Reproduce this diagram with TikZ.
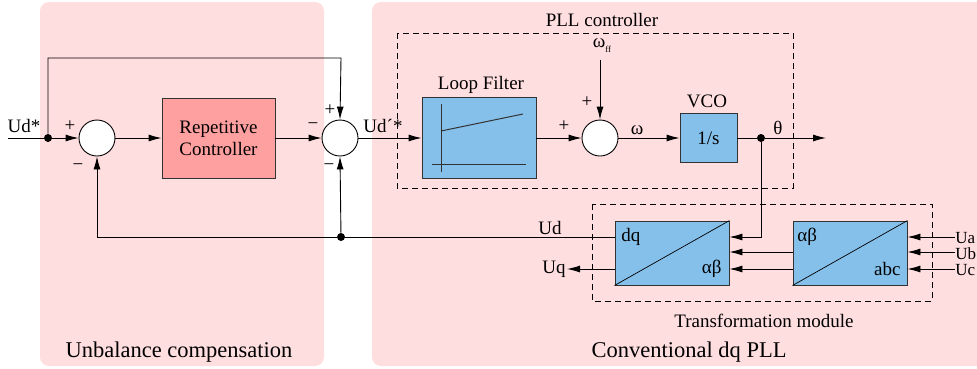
\documentclass[tikz,border=0pt]{standalone}
\usepackage{fontspec}
\setmainfont{Liberation Serif}
\usetikzlibrary{arrows.meta,calc}
\definecolor{panelpink}{RGB}{255,222,224}
\definecolor{reppink}{RGB}{255,160,160}
\definecolor{bluebox}{RGB}{133,192,234}
\definecolor{edge}{RGB}{50,50,50}
\begin{document}
\begin{tikzpicture}[x=1pt,y=-1pt,
  font=\fontsize{19}{22}\selectfont,
  line width=0.9pt,
  arr/.style={-{Latex[length=13pt,width=7pt]}},
  sumc/.style={circle,draw,fill=white,minimum size=36pt,inner sep=0pt},
  blk/.style={draw=edge,inner sep=0pt,align=center},
  dotn/.style={circle,fill=black,minimum size=8pt,inner sep=0pt},
  dashbox/.style={dash pattern=on 6pt off 4pt,line width=0.8pt},
  lbl/.style={inner sep=0pt},
  ulbl/.style={inner sep=0pt,anchor=west,font=\fontsize{17}{17}\selectfont}
]
\useasboundingbox (0,0) rectangle (977,368);
\fill[white] (0,0) rectangle (977,368);
% panels
\fill[panelpink,rounded corners=9pt] (40,2) rectangle (324,366);
\begin{scope}
\clip (0,0) rectangle (977,368);
\fill[panelpink,rounded corners=9pt] (372,2) rectangle (995,366);
\end{scope}
% dashed boxes
\draw[dashbox] (397,33) rectangle (793,188);
\draw[dashbox] (592,204) rectangle (932,301);
% blocks
\node[blk,fill=reppink,minimum width=113pt,minimum height=80pt] (rep) at (218.5,138) {Repetitive\\Controller};
\node[sumc] (s1) at (97,138) {};
\node[sumc] (s2) at (340,138) {};
\node[blk,fill=bluebox,minimum width=114pt,minimum height=81pt] (lf) at (479,138) {};
\node[sumc] (s3) at (600,138) {};
\node[blk,fill=bluebox,minimum width=57pt,minimum height=49pt] (vco) at (708.5,138) {1/s};
\node[blk,fill=bluebox,minimum width=114pt,minimum height=64pt] (dq) at (672,253) {};
\node[blk,fill=bluebox,minimum width=114pt,minimum height=64pt] (ab) at (850,253) {};
\draw[line width=0.7pt] (dq.south west) -- (dq.north east);
\draw[line width=0.7pt] (ab.south west) -- (ab.north east);
% loop filter graph
\draw[edge,line width=1pt] (441,104) -- (441,172);
\draw[edge,line width=1pt] (432,164) -- (526,164);
\draw[edge,line width=1pt] (441,131) -- (523,114);
% dots and coordinates
\coordinate (in) at (8,138);
\node[dotn] (d1) at (48,138) {};
\coordinate (top) at (341,58);
\node[dotn] (d2) at (341,237) {};
\node[dotn] (d3) at (761,138) {};
\coordinate (out) at (826,138);
\coordinate (wffc) at (600,60);
\coordinate (uq) at (567,269);
\coordinate (ua) at (955,237);
\coordinate (ub) at (955,252);
\coordinate (uc) at (955,269);
% connectors
\draw (in) -- (d1);
\draw[arr] (d1) -- (s1);
\draw[arr] (d1) |- (top) -- (s2.north);
\draw[arr] (s1) -- (rep);
\draw[arr] (rep) -- (s2);
\draw[arr] (d2) -- (s2.south);
\draw[arr] (d2) -| (s1.south);
\draw (d2) -- (dq.west |- d2);
\draw[arr] (s2) -- (lf);
\draw[arr] (lf) -- (s3);
\draw[arr] (wffc) -- (s3.north);
\draw[arr] (s3) -- (vco);
\draw (vco) -- (d3);
\draw[arr] (d3) -- (out);
\draw[arr] (d3) |- (dq.east |- d2);
\draw[arr] (ab.west |- ub) -- (dq.east |- ub);
\draw[arr] (ab.west |- uc) -- (dq.east |- uc);
\draw[arr] (dq.west |- uq) -- (uq);
\draw[arr] (ua) -- (ab.east |- ua);
\draw[arr] (ub) -- (ab.east |- ub);
\draw[arr] (uc) -- (ab.east |- uc);
% labels
\node[lbl] (lud) at (24,126) {Ud*};
\node[lbl] (p1) at (70,126) {+};
\node[lbl] (m1) at (78,167) {−};
\node[lbl] (p2) at (330,110) {+};
\node[lbl] (m2) at (313,126) {−};
\node[lbl] (m3) at (329,167) {−};
\node[lbl] (ludp) at (383,126) {Ud´*};
\node[lbl] (llf) at (481,85) {Loop Filter};
\node[lbl] (p3) at (564,126) {+};
\node[lbl] (p4) at (587,102) {+};
\node[lbl] (wff) at (602,46) {ω\raisebox{-5pt}{\fontsize{9}{9}\selectfont ff}};
\node[lbl] (lw) at (637,130) {ω};
\node[lbl] (lvco) at (707,101) {VCO};
\node[lbl] (lth) at (778,128) {θ};
\node[lbl] (lpll) at (602,20) {PLL controller};
\node[lbl] (lud2) at (550,228) {Ud};
\node[lbl,anchor=east] (luq) at (566,269) {Uq};
\node[lbl,anchor=west] (ldq) at (621,237) {dq};
\node[lbl,anchor=east] (lab1) at (722,269) {αβ};
\node[lbl,anchor=west] (lab2) at (797,237) {αβ};
\node[lbl,anchor=east] (labc) at (901,269) {abc};
\node[ulbl] (lua) at (955,238) {Ua};
\node[ulbl] (lub) at (955,254) {Ub};
\node[ulbl] (luc) at (955,270) {Uc};
\node[lbl] (ltm) at (764,321) {Transformation module};
\node[lbl,font=\fontsize{22.5}{26}\selectfont] (lunb) at (179,352) {Unbalance compensation};
\node[lbl,font=\fontsize{22.5}{26}\selectfont] (lconv) at (689,352) {Conventional dq PLL};
\end{tikzpicture}
\end{document}
